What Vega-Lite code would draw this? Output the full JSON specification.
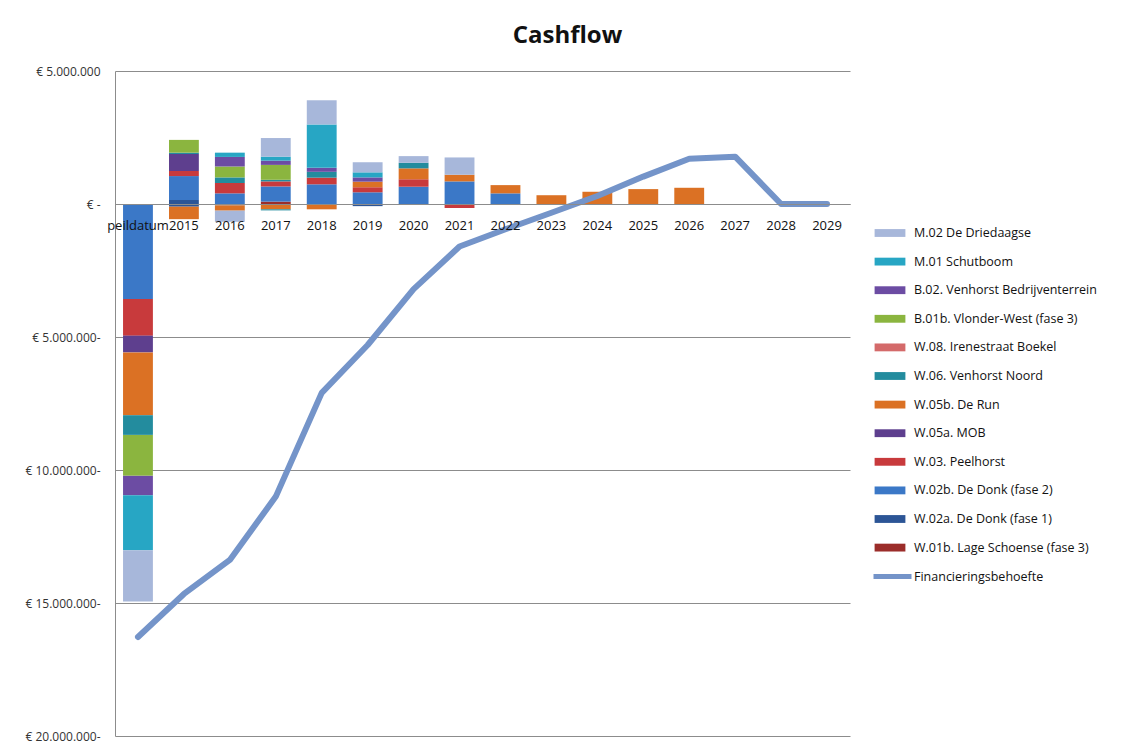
{
  "$schema": "https://vega.github.io/schema/vega-lite/v6.json",
  "width": 735,
  "height": 665,
  "autosize": {"type": "none"},
  "padding": {"left": 115, "top": 71, "right": 278, "bottom": 7},
  "background": "white",
  "title": {"text": "Cashflow", "fontSize": 24, "fontWeight": "bold", "font": "Open Sans", "anchor": "middle", "frame": "group", "dx": 85, "offset": 17, "color": "#111111"},
  "config": {"view": {"stroke": null}, "font": "Open Sans"},
  "datasets": {
    "bars": [
      {"jaar": "peildatum", "project": "W.02b. De Donk (fase 2)", "bedrag": -3570000},
      {"jaar": "peildatum", "project": "W.03. Peelhorst", "bedrag": -1380000},
      {"jaar": "peildatum", "project": "W.05a. MOB", "bedrag": -630000},
      {"jaar": "peildatum", "project": "W.05b. De Run", "bedrag": -2360000},
      {"jaar": "peildatum", "project": "W.06. Venhorst Noord", "bedrag": -740000},
      {"jaar": "peildatum", "project": "B.01b. Vlonder-West (fase 3)", "bedrag": -1540000},
      {"jaar": "peildatum", "project": "B.02. Venhorst Bedrijventerrein", "bedrag": -730000},
      {"jaar": "peildatum", "project": "M.01 Schutboom", "bedrag": -2070000},
      {"jaar": "peildatum", "project": "M.02 De Driedaagse", "bedrag": -1920000},
      {"jaar": "2015", "project": "W.02a. De Donk (fase 1)", "bedrag": 150000},
      {"jaar": "2015", "project": "W.02b. De Donk (fase 2)", "bedrag": 900000},
      {"jaar": "2015", "project": "W.03. Peelhorst", "bedrag": 190000},
      {"jaar": "2015", "project": "W.05a. MOB", "bedrag": 640000},
      {"jaar": "2015", "project": "W.06. Venhorst Noord", "bedrag": 50000},
      {"jaar": "2015", "project": "B.01b. Vlonder-West (fase 3)", "bedrag": 480000},
      {"jaar": "2015", "project": "W.02a. De Donk (fase 1)", "bedrag": -100000},
      {"jaar": "2015", "project": "W.05b. De Run", "bedrag": -470000},
      {"jaar": "2016", "project": "W.02b. De Donk (fase 2)", "bedrag": 400000},
      {"jaar": "2016", "project": "W.03. Peelhorst", "bedrag": 390000},
      {"jaar": "2016", "project": "W.06. Venhorst Noord", "bedrag": 210000},
      {"jaar": "2016", "project": "B.01b. Vlonder-West (fase 3)", "bedrag": 410000},
      {"jaar": "2016", "project": "B.02. Venhorst Bedrijventerrein", "bedrag": 360000},
      {"jaar": "2016", "project": "M.01 Schutboom", "bedrag": 160000},
      {"jaar": "2016", "project": "W.02b. De Donk (fase 2)", "bedrag": -50000},
      {"jaar": "2016", "project": "W.05b. De Run", "bedrag": -200000},
      {"jaar": "2016", "project": "M.02 De Driedaagse", "bedrag": -420000},
      {"jaar": "2017", "project": "W.01b. Lage Schoense (fase 3)", "bedrag": 90000},
      {"jaar": "2017", "project": "W.02b. De Donk (fase 2)", "bedrag": 570000},
      {"jaar": "2017", "project": "W.03. Peelhorst", "bedrag": 190000},
      {"jaar": "2017", "project": "W.06. Venhorst Noord", "bedrag": 60000},
      {"jaar": "2017", "project": "B.01b. Vlonder-West (fase 3)", "bedrag": 560000},
      {"jaar": "2017", "project": "B.02. Venhorst Bedrijventerrein", "bedrag": 160000},
      {"jaar": "2017", "project": "M.01 Schutboom", "bedrag": 150000},
      {"jaar": "2017", "project": "M.02 De Driedaagse", "bedrag": 700000},
      {"jaar": "2017", "project": "W.05b. De Run", "bedrag": -200000},
      {"jaar": "2017", "project": "W.06. Venhorst Noord", "bedrag": -40000},
      {"jaar": "2018", "project": "W.02b. De Donk (fase 2)", "bedrag": 740000},
      {"jaar": "2018", "project": "W.03. Peelhorst", "bedrag": 250000},
      {"jaar": "2018", "project": "W.06. Venhorst Noord", "bedrag": 220000},
      {"jaar": "2018", "project": "B.02. Venhorst Bedrijventerrein", "bedrag": 150000},
      {"jaar": "2018", "project": "M.01 Schutboom", "bedrag": 1630000},
      {"jaar": "2018", "project": "M.02 De Driedaagse", "bedrag": 910000},
      {"jaar": "2018", "project": "W.05b. De Run", "bedrag": -200000},
      {"jaar": "2019", "project": "W.02b. De Donk (fase 2)", "bedrag": 440000},
      {"jaar": "2019", "project": "W.03. Peelhorst", "bedrag": 190000},
      {"jaar": "2019", "project": "W.05b. De Run", "bedrag": 210000},
      {"jaar": "2019", "project": "B.02. Venhorst Bedrijventerrein", "bedrag": 160000},
      {"jaar": "2019", "project": "M.01 Schutboom", "bedrag": 190000},
      {"jaar": "2019", "project": "M.02 De Driedaagse", "bedrag": 380000},
      {"jaar": "2019", "project": "W.02a. De Donk (fase 1)", "bedrag": -80000},
      {"jaar": "2020", "project": "W.02b. De Donk (fase 2)", "bedrag": 650000},
      {"jaar": "2020", "project": "W.03. Peelhorst", "bedrag": 280000},
      {"jaar": "2020", "project": "W.05b. De Run", "bedrag": 410000},
      {"jaar": "2020", "project": "W.06. Venhorst Noord", "bedrag": 210000},
      {"jaar": "2020", "project": "M.02 De Driedaagse", "bedrag": 250000},
      {"jaar": "2021", "project": "W.02b. De Donk (fase 2)", "bedrag": 850000},
      {"jaar": "2021", "project": "W.05b. De Run", "bedrag": 250000},
      {"jaar": "2021", "project": "M.02 De Driedaagse", "bedrag": 650000},
      {"jaar": "2021", "project": "W.03. Peelhorst", "bedrag": -150000},
      {"jaar": "2022", "project": "W.02b. De Donk (fase 2)", "bedrag": 400000},
      {"jaar": "2022", "project": "W.05b. De Run", "bedrag": 310000},
      {"jaar": "2023", "project": "W.05b. De Run", "bedrag": 330000},
      {"jaar": "2024", "project": "W.05b. De Run", "bedrag": 460000},
      {"jaar": "2025", "project": "W.05b. De Run", "bedrag": 560000},
      {"jaar": "2026", "project": "W.05b. De Run", "bedrag": 610000}
    ],
    "lijn": [
      {"jaar": "peildatum", "financieringsbehoefte": -16280000},
      {"jaar": "2015", "financieringsbehoefte": -14660000},
      {"jaar": "2016", "financieringsbehoefte": -13380000},
      {"jaar": "2017", "financieringsbehoefte": -11000000},
      {"jaar": "2018", "financieringsbehoefte": -7100000},
      {"jaar": "2019", "financieringsbehoefte": -5300000},
      {"jaar": "2020", "financieringsbehoefte": -3200000},
      {"jaar": "2021", "financieringsbehoefte": -1600000},
      {"jaar": "2022", "financieringsbehoefte": -950000},
      {"jaar": "2023", "financieringsbehoefte": -330000},
      {"jaar": "2024", "financieringsbehoefte": 300000},
      {"jaar": "2025", "financieringsbehoefte": 1030000},
      {"jaar": "2026", "financieringsbehoefte": 1700000},
      {"jaar": "2027", "financieringsbehoefte": 1780000},
      {"jaar": "2028", "financieringsbehoefte": 0},
      {"jaar": "2029", "financieringsbehoefte": 0}
    ]
  },
  "layer": [
    {
      "data": {"name": "bars"},
      "transform": [
        {"calculate": "indexof(['W.01b. Lage Schoense (fase 3)', 'W.02a. De Donk (fase 1)', 'W.02b. De Donk (fase 2)', 'W.03. Peelhorst', 'W.05a. MOB', 'W.05b. De Run', 'W.06. Venhorst Noord', 'W.08. Irenestraat Boekel', 'B.01b. Vlonder-West (fase 3)', 'B.02. Venhorst Bedrijventerrein', 'M.01 Schutboom', 'M.02 De Driedaagse'], datum.project)", "as": "volgorde"}
      ],
      "mark": {"type": "bar"},
      "encoding": {
        "x": {
          "field": "jaar", "type": "nominal", "sort": null,
          "scale": {"domain": ["peildatum", "2015", "2016", "2017", "2018", "2019", "2020", "2021", "2022", "2023", "2024", "2025", "2026", "2027", "2028", "2029"], "paddingInner": 0.35, "paddingOuter": 0.175},
          "axis": {"title": null, "orient": "bottom", "offset": -532, "ticks": false, "domainColor": "#8c8c8c", "labelAngle": 0, "labelPadding": 15, "labelFontSize": 13, "labelColor": "#111111", "labelFont": "Open Sans", "zindex": 1, "labelOverlap": false}
        },
        "y": {
          "field": "bedrag", "type": "quantitative", "stack": "zero",
          "scale": {"domain": [-20000000, 5000000], "nice": false},
          "axis": {"title": null, "values": [-20000000, -15000000, -10000000, -5000000, 0, 5000000], "grid": true, "gridColor": "#8c8c8c", "gridWidth": 1, "domainColor": "#8c8c8c", "ticks": false, "labelPadding": 15, "labelFontSize": 12, "labelColor": "#333333", "labelFont": "Open Sans",
            "labelExpr": "datum.value == 0 ? '€ -' : '€ ' + replace(format(abs(datum.value), ','), regexp(',', 'g'), '.') + (datum.value < 0 ? '-' : '')"}
        },
        "order": {"field": "volgorde", "type": "quantitative", "sort": "ascending"},
        "color": {
          "field": "project", "type": "nominal",
          "scale": {
            "domain": ["W.01b. Lage Schoense (fase 3)", "W.02a. De Donk (fase 1)", "W.02b. De Donk (fase 2)", "W.03. Peelhorst", "W.05a. MOB", "W.05b. De Run", "W.06. Venhorst Noord", "W.08. Irenestraat Boekel", "B.01b. Vlonder-West (fase 3)", "B.02. Venhorst Bedrijventerrein", "M.01 Schutboom", "M.02 De Driedaagse"],
            "range": ["#9B2D2A", "#2C5596", "#3B78C7", "#C83A3C", "#5E3F8E", "#DB7124", "#238C9E", "#D46A6A", "#8BB53F", "#6C4CA3", "#27A6C4", "#A7B7DA"]
          },
          "legend": {
            "orient": "none", "legendX": 761, "legendY": 148, "title": null,
            "values": ["M.02 De Driedaagse", "M.01 Schutboom", "B.02. Venhorst Bedrijventerrein", "B.01b. Vlonder-West (fase 3)", "W.08. Irenestraat Boekel", "W.06. Venhorst Noord", "W.05b. De Run", "W.05a. MOB", "W.03. Peelhorst", "W.02b. De Donk (fase 2)", "W.02a. De Donk (fase 1)", "W.01b. Lage Schoense (fase 3)"],
            "symbolType": "M-1.1,-0.28H1.1V0.28H-1.1Z", "symbolSize": 784, "symbolStrokeWidth": 0, "symbolOpacity": 1,
            "labelFontSize": 12.5, "labelFont": "Open Sans", "labelColor": "#111111", "labelOffset": 10, "rowPadding": 7.6, "labelLimit": 300
          }
        }
      }
    },
    {
      "data": {"name": "lijn"},
      "mark": {"type": "line", "strokeWidth": 6, "strokeCap": "round", "strokeJoin": "round"},
      "encoding": {
        "x": {"field": "jaar", "type": "nominal", "sort": null},
        "y": {"field": "financieringsbehoefte", "type": "quantitative"},
        "stroke": {
          "datum": "Financieringsbehoefte", "type": "nominal",
          "scale": {"domain": ["Financieringsbehoefte"], "range": ["#7494C9"]},
          "legend": {"orient": "none", "legendX": 756, "legendY": 484, "title": null, "symbolType": "stroke", "symbolSize": 1444, "symbolStrokeWidth": 5, "labelOffset": 0, "labelFontSize": 12.5, "labelFont": "Open Sans", "labelColor": "#111111"}
        }
      }
    }
  ]
}
